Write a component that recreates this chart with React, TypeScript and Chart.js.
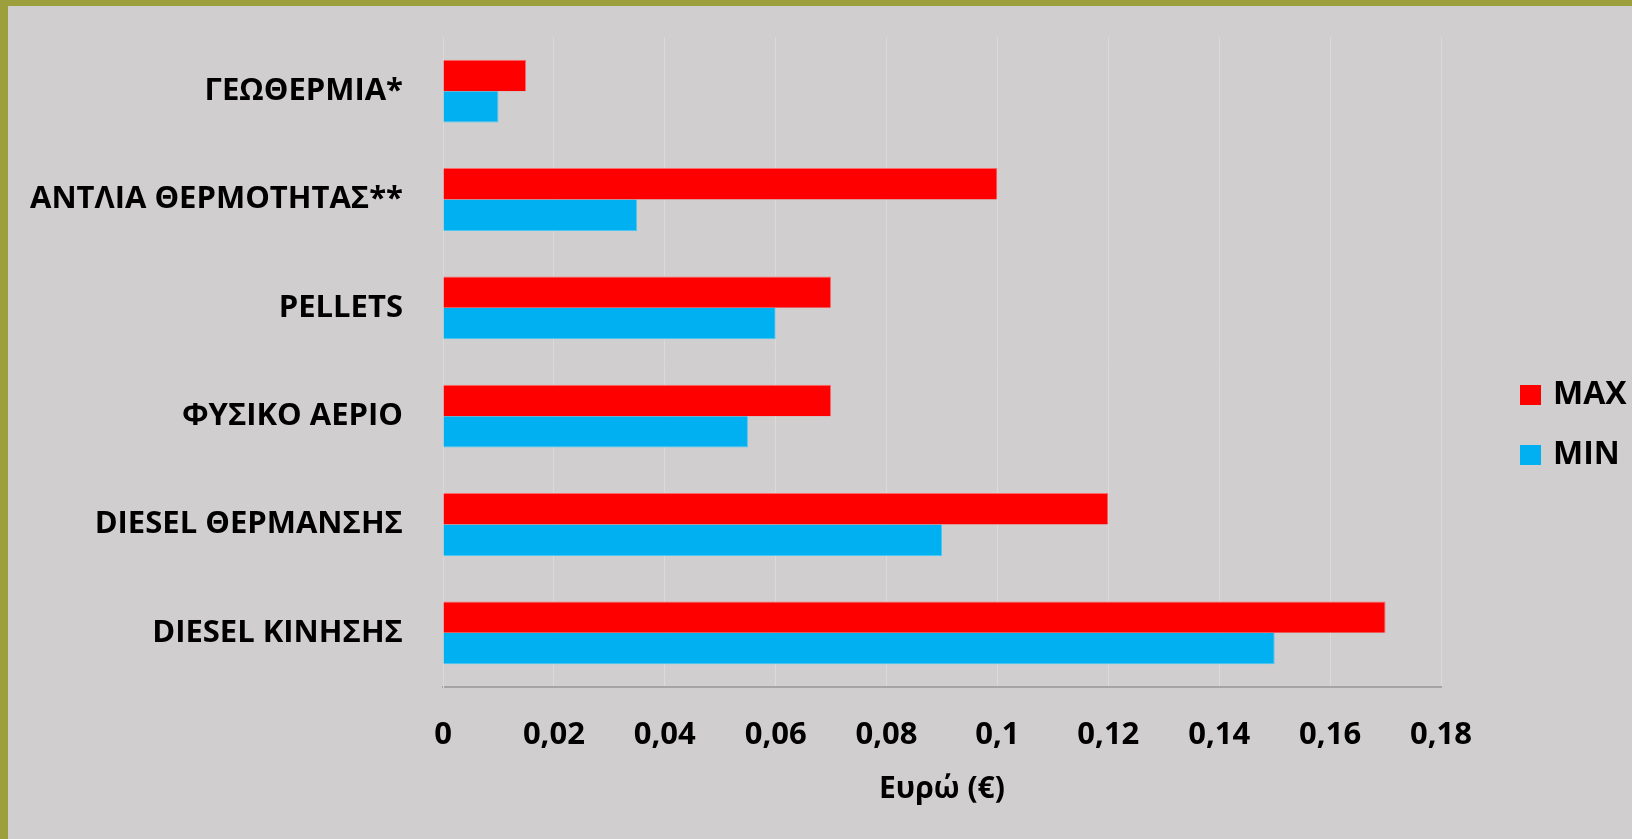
import React, { useEffect, useRef } from 'react';
import { Chart, registerables } from 'chart.js';

Chart.register(...registerables);

const categories = ['ΓΕΩΘΕΡΜΙΑ*', 'ΑΝΤΛΙΑ ΘΕΡΜΟΤΗΤΑΣ**', 'PELLETS', 'ΦΥΣΙΚΟ ΑΕΡΙΟ', 'DIESEL ΘΕΡΜΑΝΣΗΣ', 'DIESEL ΚΙΝΗΣΗΣ'];
const maxValues = [0.015, 0.1, 0.07, 0.07, 0.12, 0.17];
const minValues = [0.01, 0.035, 0.06, 0.055, 0.09, 0.15];
const xTickLabels = ['0', '0,02', '0,04', '0,06', '0,08', '0,1', '0,12', '0,14', '0,16', '0,18'];
const seriesNames = ['MAX', 'MIN'];
const seriesColors = ['#ff0000', '#00b0f0'];
const seriesEdgeColors = ['#ff6b6b', '#4cc6f2'];
const axisTitle = 'Ευρώ (€)';

const W = 1632;
const H = 839;
const FONT_FAMILY = "'Open Sans', sans-serif";

const backgroundPlugin = {
  id: 'slideBackground',
  beforeDraw(chart: any) {
    const ctx = chart.ctx;
    ctx.save();
    ctx.fillStyle = '#9c9f3c';
    ctx.fillRect(0, 0, chart.width, chart.height);
    ctx.fillStyle = '#d0cece';
    ctx.fillRect(8, 6, chart.width - 8, chart.height - 6);
    ctx.restore();
  },
};

const legendPlugin = {
  id: 'sideLegend',
  afterDraw(chart: any) {
    const ctx = chart.ctx;
    ctx.save();
    ctx.font = `bold 32px ${FONT_FAMILY}`;
    ctx.textBaseline = 'middle';
    ctx.textAlign = 'left';
    chart.data.datasets.forEach((ds: any, i: number) => {
      const y = 385 + i * 60;
      ctx.fillStyle = ds.backgroundColor;
      ctx.fillRect(1520, y, 21, 20);
      ctx.fillStyle = '#000000';
      ctx.fillText(ds.label, 1553, y + 10);
    });
    ctx.restore();
  },
};

export default function App() {
  const ref = useRef<HTMLCanvasElement | null>(null);

  useEffect(() => {
    document.body.style.margin = '0';
    const canvas = ref.current;
    if (!canvas) return;
    const font = { family: FONT_FAMILY, size: 31, weight: 'bold' as const };
    const chart = new Chart(canvas, {
      type: 'bar',
      data: {
        labels: categories,
        datasets: [
          {
            label: seriesNames[0],
            data: maxValues,
            backgroundColor: seriesColors[0],
            borderColor: seriesEdgeColors[0],
            borderWidth: { top: 1, right: 1, bottom: 0, left: 1 },
            categoryPercentage: 0.58,
            barPercentage: 1.0,
          },
          {
            label: seriesNames[1],
            data: minValues,
            backgroundColor: seriesColors[1],
            borderColor: seriesEdgeColors[1],
            borderWidth: { top: 0, right: 1, bottom: 1, left: 1 },
            categoryPercentage: 0.58,
            barPercentage: 1.0,
          },
        ],
      },
      options: {
        indexAxis: 'y',
        responsive: false,
        animation: false,
        devicePixelRatio: 1,
        layout: { padding: { left: 0, top: 37, right: 191, bottom: 0 } },
        plugins: {
          legend: { display: false },
          tooltip: { enabled: false },
        },
        scales: {
          x: {
            min: 0,
            max: 0.18,
            ticks: {
              stepSize: 0.02,
              color: '#000000',
              font,
              padding: 30,
              callback: (_v: any, i: number) => xTickLabels[i],
            },
            grid: { color: '#dadada', lineWidth: 1, drawTicks: false },
            border: { display: true, color: '#a5a5a5', width: 2 },
            title: {
              display: true,
              text: axisTitle,
              color: '#000000',
              font: { family: FONT_FAMILY, size: 30, weight: 'bold' as const },
              padding: { top: 8, bottom: 32 },
            },
            afterFit: (s: any) => {
              s.height = 152;
            },
          },
          y: {
            ticks: { color: '#000000', font, padding: 40 },
            grid: { display: false, drawTicks: false },
            border: { display: true, color: '#dadada', width: 1 },
            afterFit: (s: any) => {
              s.width = 443;
              s.paddingTop = 0;
              s.paddingBottom = 0;
            },
          },
        },
      },
      plugins: [backgroundPlugin, legendPlugin],
    });
    return () => chart.destroy();
  }, []);

  return <canvas ref={ref} width={W} height={H} style={{ display: 'block', width: W, height: H }} />;
}
